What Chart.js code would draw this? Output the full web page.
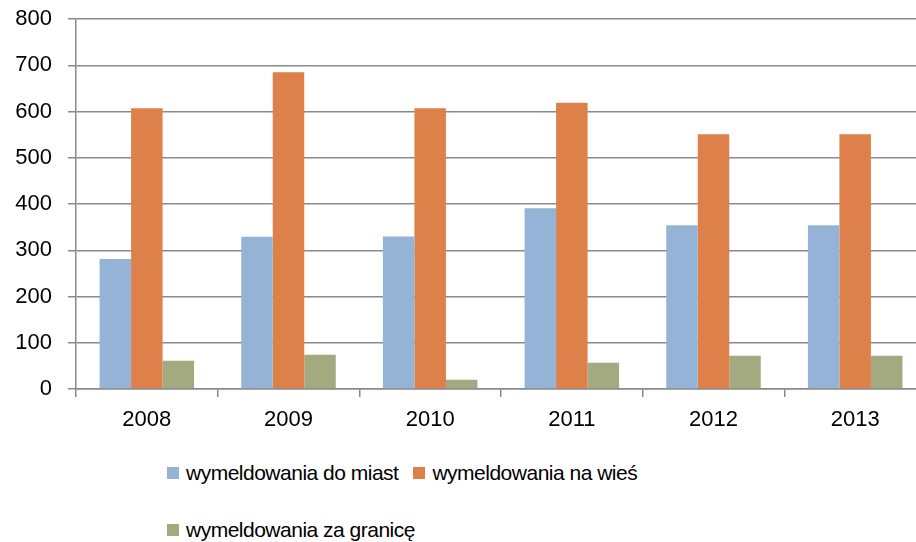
<!DOCTYPE html>
<html>
<head>
<meta charset="utf-8">
<script src="https://cdn.jsdelivr.net/npm/chart.js@4"></script>
<style>
    html, body { margin: 0; padding: 0; background: #fff; overflow: hidden; }
    #wrap { position: relative; width: 926px; height: 542px; }
    #chartBox { position: absolute; left: 0; top: 0; width: 926px; height: 445px; }
    #legend {
        position: absolute; left: 167px; top: 461px; width: 520px;
        display: flex; flex-wrap: wrap; row-gap: 33px;
        font-family: "Liberation Sans", Arial, sans-serif; font-size: 21px;
        letter-spacing: -0.5px; color: #000;
    }
    .item { display: flex; align-items: center; margin-right: 15px; line-height: 24px; }
    .box { width: 12px; height: 12px; margin-right: 7px; }
</style>
</head>
<body>
<div id="wrap">
    <div id="chartBox"><canvas id="chart"></canvas></div>
    <div id="legend"></div>
</div>
<script>
// Data
const years = ['2008', '2009', '2010', '2011', '2012', '2013'];
const doMiast = [281, 329, 330, 391, 354, 354];
const naWies = [607, 685, 607, 619, 551, 551];
const zaGranice = [61, 74, 20, 57, 72, 72];
const seriesNames = ['wymeldowania do miast', 'wymeldowania na wieś', 'wymeldowania za granicę'];
const yTicks = [0, 100, 200, 300, 400, 500, 600, 700, 800];

const colors = ['#95B3D6', '#DE8049', '#A4AA7F'];
const gridColor = '#8A8A8A';
const tickFont = { family: '"Liberation Sans", Arial, sans-serif', size: 22 };

const datasets = [doMiast, naWies, zaGranice].map((values, i) => ({
    label: seriesNames[i],
    data: values,
    backgroundColor: colors[i],
    borderWidth: 0,
    barPercentage: 1,
    categoryPercentage: 0.667
}));

const ctx = document.getElementById('chart').getContext('2d');
new Chart(ctx, {
    type: 'bar',
    data: { labels: years, datasets: datasets },
    options: {
        responsive: true,
        maintainAspectRatio: false,
        animation: false,
        layout: { padding: { top: 19, right: 0, left: 0, bottom: 0 } },
        plugins: {
            legend: { display: false },
            tooltip: { enabled: false }
        },
        scales: {
            x: {
                grid: {
                    offset: true,
                    drawOnChartArea: false,
                    color: gridColor,
                    lineWidth: 1.5,
                    tickLength: 8
                },
                border: { color: gridColor, width: 1.5 },
                ticks: { color: '#000', font: tickFont, padding: 10, maxRotation: 0 },
                afterFit: function(axis) {
                    axis.height = 56;
                    axis.paddingLeft = 0;
                    axis.paddingRight = 0;
                }
            },
            y: {
                min: 0,
                max: 800,
                afterBuildTicks: function(axis) {
                    axis.ticks = yTicks.map(v => ({ value: v }));
                },
                grid: {
                    color: gridColor,
                    lineWidth: 1.5,
                    tickLength: 8
                },
                border: { color: gridColor, width: 1.5 },
                ticks: { color: '#000', font: tickFont, padding: 16 },
                afterFit: function(axis) {
                    axis.width = 76;
                    axis.paddingTop = 0;
                    axis.paddingBottom = 0;
                }
            }
        }
    }
});

// HTML legend laid out like the original
const legend = document.getElementById('legend');
seriesNames.forEach((name, i) => {
    const item = document.createElement('div');
    item.className = 'item';
    const box = document.createElement('span');
    box.className = 'box';
    box.style.background = colors[i];
    const text = document.createElement('span');
    text.textContent = name;
    item.appendChild(box);
    item.appendChild(text);
    legend.appendChild(item);
});
</script>
</body>
</html>
